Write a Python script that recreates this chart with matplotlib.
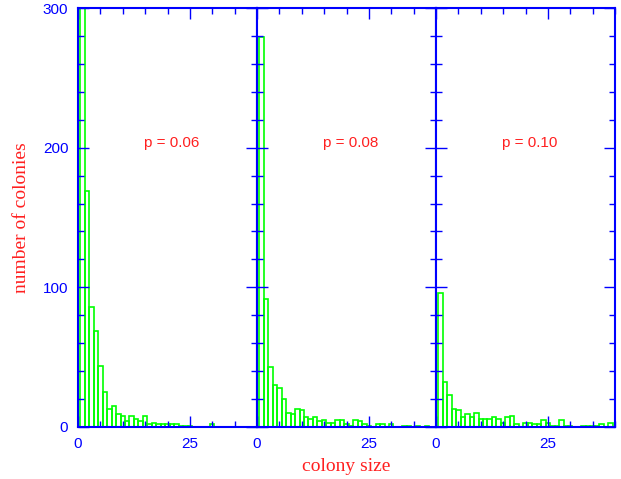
import matplotlib
matplotlib.use("Agg")
import matplotlib.pyplot as plt
from matplotlib.ticker import MultipleLocator

# colony size histograms for three values of p
sizes = list(range(1, 40))

counts_006 = [320, 169, 86, 69, 44, 25, 13, 15, 9, 8,
              4, 8, 6, 4, 8, 2, 3, 2, 2, 2,
              2, 2, 1, 1, 1, 0, 0, 0, 0, 2,
              0, 0, 0, 0, 0, 0, 0, 0, 0]

counts_008 = [279, 92, 43, 30, 28, 20, 10, 9, 13, 12,
              7, 6, 7, 4, 5, 3, 3, 5, 5, 2,
              1, 5, 4, 2, 1, 0, 2, 2, 0, 2,
              0, 0, 1, 1, 0, 1, 0, 1, 0]

counts_010 = [96, 32, 23, 13, 12, 7, 9, 7, 10, 6,
              6, 6, 7, 6, 3, 7, 8, 2, 0, 3,
              3, 2, 2, 5, 3, 1, 1, 5, 1, 1,
              0, 0, 1, 1, 1, 1, 2, 0, 3]

panel_labels = ["p = 0.06", "p = 0.08", "p = 0.10"]

BLUE = "#0000ff"
GREEN = "#00ff00"
RED = "#ff2020"

plt.rcParams["font.family"] = ["Liberation Sans", "DejaVu Sans"]

fig = plt.figure(figsize=(6.21, 4.79), dpi=100)

left = 78 / 621
width = 179 / 621
bottom = 52 / 479
height = 419 / 479

all_counts = [counts_006, counts_008, counts_010]

for i, (counts, label) in enumerate(zip(all_counts, panel_labels)):

    ax = fig.add_axes([left + i * width, bottom, width, height])

    ax.bar(
        sizes,
        counts,
        width=1.0,
        fill=False,
        edgecolor=GREEN,
        linewidth=1.2
    )

    ax.set_xlim(0, 40)
    ax.set_ylim(0, 300)

    ax.xaxis.set_major_locator(MultipleLocator(25))
    ax.xaxis.set_minor_locator(MultipleLocator(5))
    ax.yaxis.set_major_locator(MultipleLocator(100))
    ax.yaxis.set_minor_locator(MultipleLocator(20))

    ax.tick_params(
        which="both",
        direction="in",
        top=True,
        right=True,
        colors=BLUE,
        labelcolor=BLUE,
        labelsize=11,
        width=1.0
    )
    ax.tick_params(which="major", length=8)
    ax.tick_params(which="minor", length=4)
    ax.tick_params(axis="x", pad=7)
    ax.tick_params(axis="y", pad=7)

    if i > 0:
        ax.set_yticklabels([])

    for spine in ax.spines.values():
        spine.set_color(BLUE)
        spine.set_linewidth(1.5)

    ax.text(
        21,
        203,
        label,
        color=RED,
        fontsize=11,
        ha="center",
        va="center"
    )

    if i == 0:
        ax.set_ylabel(
            "number of colonies",
            color=RED,
            family="Liberation Serif",
            fontsize=14,
            labelpad=9
        )

    if i == 1:
        ax.set_xlabel(
            "colony size",
            color=RED,
            family="Liberation Serif",
            fontsize=14,
            labelpad=5
        )

fig.savefig("out.png", dpi=100)
